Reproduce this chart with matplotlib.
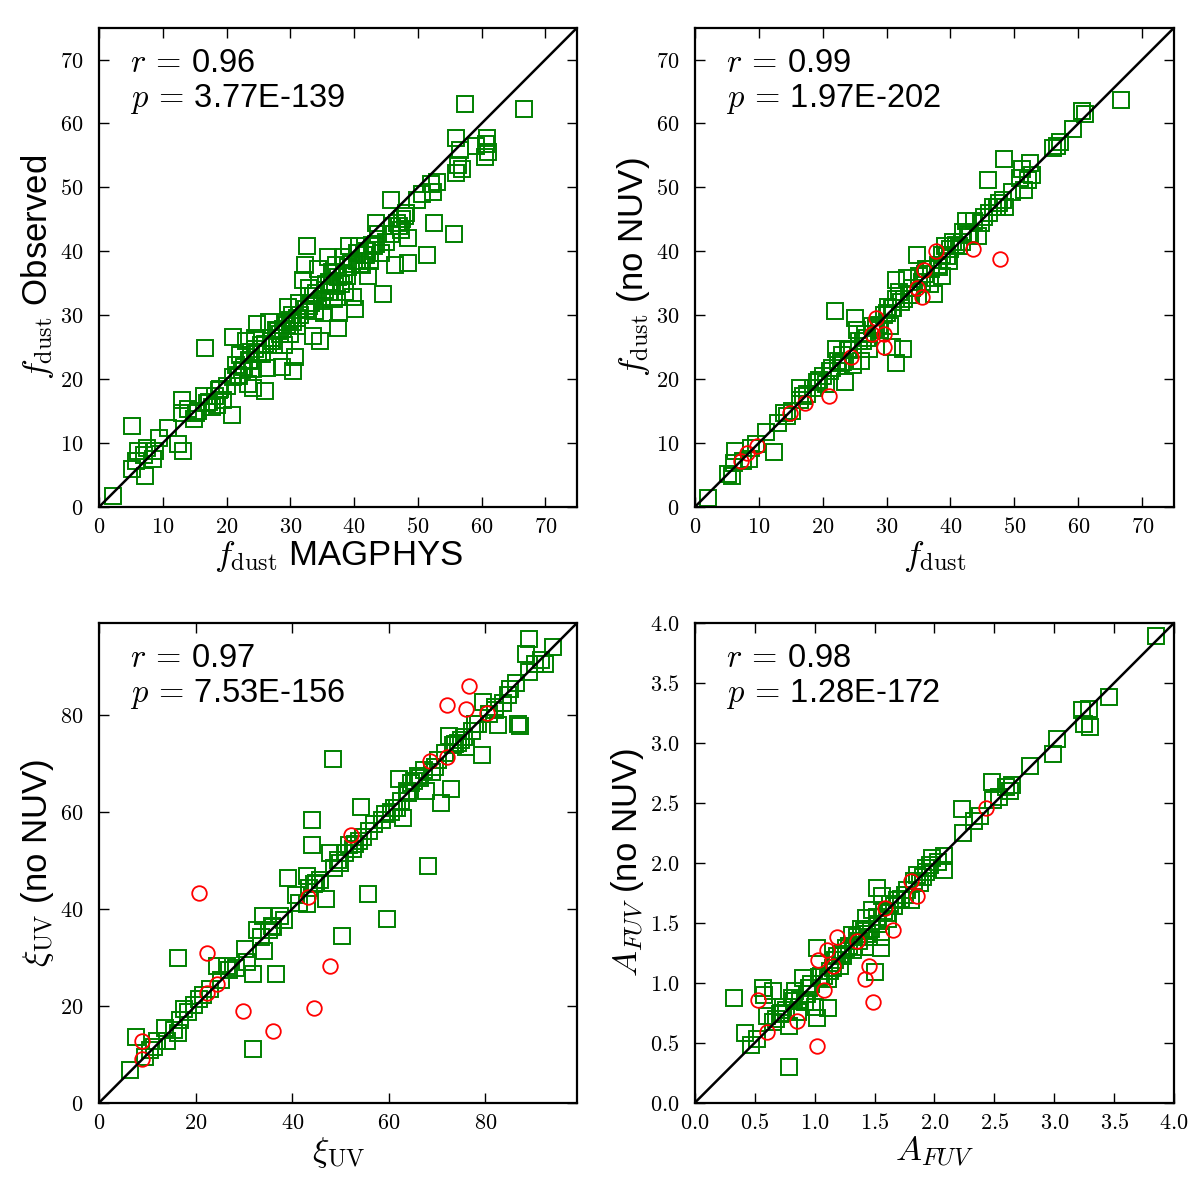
import matplotlib
matplotlib.use('Agg')
import matplotlib.pyplot as plt
from matplotlib.ticker import FuncFormatter

plt.rcParams['font.family'] = ['Liberation Sans', 'DejaVu Sans']
plt.rcParams['mathtext.fontset'] = 'cm'

# ---- panel 1: f_dust MAGPHYS vs observed (green only)
fd_magphys = [2.2, 5.1, 5.2, 5.8, 6.1, 7.0, 7.2, 7.6, 8.5, 8.8, 9.4, 10.9, 12.4, 13.2,
              13.0, 13.0, 13.9, 14.9, 15.2, 16.4, 16.7, 17.3, 17.8, 18.2, 18.8, 19.4,
              20.0, 20.9, 21.0, 21.5, 21.8, 22.1, 22.7, 23.0, 23.3, 23.6, 24.2, 24.2,
              24.5, 24.5, 24.8, 25.4, 26.0, 26.3, 26.6, 26.9, 27.5, 27.8, 28.4, 28.7,
              29.0, 29.3, 29.6, 29.9, 30.2, 30.5, 30.8, 31.1, 31.4, 32.0, 32.3, 32.6,
              32.9, 33.2, 33.5, 33.8, 34.4, 34.7, 35.0, 35.3, 35.6, 35.9, 36.2, 36.5,
              36.8, 37.1, 37.5, 37.7, 38.0, 38.3, 38.6, 38.9, 39.2, 39.8, 40.1, 40.4,
              40.7, 41.3, 41.9, 42.2, 42.5, 43.1, 43.4, 43.7, 44.3, 44.6, 45.8, 45.8,
              46.4, 46.7, 47.3, 47.6, 48.5, 48.5, 48.2, 49.8, 50.7, 51.5, 52.1, 52.4,
              52.6, 55.7, 56.0, 56.0, 56.3, 56.6, 56.9, 57.4, 59.1, 60.6, 60.9, 60.7,
              66.6,
              15.5, 17.0, 18.5, 19.0, 21.0, 22.5, 23.5, 25.0, 26.0, 27.0, 28.0, 29.5,
              30.5, 31.5, 33.0, 34.0, 35.5, 36.5, 37.5, 39.0, 40.5, 41.5, 42.8, 47.0,
              22.0, 23.8, 25.6, 27.2, 28.9, 30.0, 31.0, 32.4, 33.6, 34.9, 36.0, 37.0,
              38.4, 39.6, 41.0, 42.0, 43.5, 45.0, 46.0, 48.0, 53.0, 61.0]
fd_observed = [1.7, 12.7, 6.0, 7.2, 8.7, 8.1, 4.9, 9.3, 7.5, 8.7, 10.8, 12.3, 9.9, 8.7,
               16.8, 14.7, 15.3, 13.8, 14.7, 17.4, 24.8, 16.5, 15.6, 17.4, 18.3, 16.8,
               18.9, 14.4, 26.6, 22.2, 20.7, 23.8, 21.9, 25.9, 19.2, 22.8, 18.6, 21.6,
               26.5, 24.7, 28.6, 25.3, 18.2, 21.8, 28.9, 26.5, 25.3, 27.7, 27.1, 21.9,
               25.3, 28.9, 31.3, 27.1, 30.1, 21.3, 23.5, 28.3, 31.9, 35.5, 37.9, 40.9,
               34.3, 31.9, 26.8, 30.7, 37.3, 25.9, 32.5, 30.4, 34.9, 39.1, 33.7, 36.7,
               32.5, 37.9, 28.0, 30.4, 34.9, 39.1, 33.7, 36.1, 40.9, 32.8, 31.0, 39.7,
               40.9, 37.9, 39.4, 36.1, 38.5, 40.9, 44.5, 42.7, 39.7, 33.4, 48.1, 42.7,
               37.9, 44.5, 43.3, 45.1, 42.1, 38.2, 46.0, 48.1, 49.0, 39.4, 50.5, 49.3,
               44.5, 42.7, 52.3, 57.7, 53.5, 55.9, 52.9, 63.1, 56.5, 54.7, 57.7, 56.8,
               62.2,
               15.0, 16.2, 16.0, 18.5, 20.3, 21.5, 23.0, 24.0, 25.5, 26.0, 27.5, 28.5,
               29.0, 30.0, 31.5, 33.5, 34.0, 35.0, 36.0, 37.5, 38.5, 39.5, 41.0, 44.0,
               20.5, 24.2, 24.0, 26.0, 27.8, 29.2, 29.5, 31.0, 33.0, 32.2, 35.2, 34.5,
               36.4, 38.0, 38.0, 40.0, 41.2, 41.5, 44.0, 45.5, 50.8, 55.5]

# ---- panel 2: f_dust vs f_dust (no NUV)
fd_x_green = [2.1, 5.2, 5.8, 6.3, 6.1, 7.6, 8.5, 8.8, 11.1, 12.4, 13.0, 14.0, 15.2, 16.4,
              16.4, 17.6, 18.5, 19.1, 20.6, 21.2, 21.9, 22.1, 22.4, 23.0, 23.5, 23.9,
              24.8, 25.1, 25.4, 25.7, 26.0, 26.6, 27.2, 27.8, 29.0, 29.6, 30.2, 30.5,
              30.8, 31.4, 31.5, 32.6, 31.4, 32.0, 33.2, 33.8, 34.7, 35.0, 36.2, 36.8,
              37.4, 38.0, 38.6, 38.6, 39.2, 39.8, 40.4, 41.3, 41.9, 42.5, 42.8, 43.7,
              44.3, 45.2, 45.9, 46.1, 46.7, 47.6, 48.3, 48.2, 48.5, 49.7, 50.9, 51.2,
              51.5, 52.1, 52.4, 52.7, 56.0, 56.6, 57.2, 59.2, 60.6, 61.0, 66.6,
              9.5, 14.5, 17.0, 19.5, 22.8, 24.2, 26.3, 28.3, 30.0, 31.0, 32.8, 34.0,
              35.5, 37.0, 39.5, 40.8, 43.0, 44.8, 47.2,
              20.0, 21.5, 23.2, 27.0, 28.8, 30.8, 32.2, 33.5, 36.0, 38.2, 40.0, 41.8]
fd_y_green = [1.4, 5.1, 4.9, 8.7, 6.9, 7.2, 7.5, 9.3, 11.7, 8.6, 13.2, 14.7, 15.0, 18.6,
              16.8, 17.7, 18.6, 19.5, 19.2, 21.3, 30.7, 24.7, 22.9, 23.8, 19.5, 24.7,
              22.2, 29.5, 27.7, 25.9, 22.9, 27.1, 24.7, 28.3, 27.7, 30.1, 31.3, 28.3,
              25.0, 32.5, 22.5, 24.7, 35.5, 33.7, 35.8, 33.1, 39.4, 36.1, 37.3, 34.9,
              33.4, 37.9, 36.1, 39.4, 40.9, 38.5, 41.5, 40.9, 43.0, 44.8, 42.7, 44.8,
              42.4, 45.4, 51.1, 46.0, 46.9, 47.5, 54.4, 48.1, 46.9, 49.3, 51.4, 52.9,
              49.6, 51.1, 53.8, 52.0, 56.2, 56.5, 57.1, 59.2, 61.9, 61.5, 63.6,
              9.8, 14.2, 17.3, 19.8, 22.5, 24.5, 26.0, 28.0, 30.3, 31.2, 32.5, 34.2,
              35.2, 37.2, 39.2, 41.0, 42.6, 44.5, 47.0,
              20.5, 21.8, 22.7, 26.5, 28.5, 31.2, 32.0, 33.2, 36.4, 37.6, 40.3, 41.5]
fd_x_red = [7.3, 8.2, 9.7, 14.9, 17.3, 21.0, 24.5, 27.8, 28.4, 29.6, 29.6, 34.7, 35.6,
            35.9, 37.7, 43.5, 47.8]
fd_y_red = [7.2, 8.4, 9.6, 14.7, 16.2, 17.4, 23.5, 27.1, 29.5, 27.1, 25.0, 34.3, 32.8,
            37.0, 40.0, 40.3, 38.8]

# ---- panel 3: xi_UV vs xi_UV (no NUV)
xi_x_green = [6.5, 7.7, 9.5, 11.3, 12.1, 14.1, 13.7, 15.6, 16.4, 16.4, 16.8, 17.5, 19.6,
              20.8, 21.6, 24.4, 25.2, 26.4, 28.4, 30.3, 30.7, 31.8, 31.9, 32.7, 33.5,
              33.9, 34.2, 35.1, 35.9, 36.7, 37.5, 38.3, 39.1, 40.7, 43.0, 43.0, 43.4,
              44.2, 44.2, 44.6, 45.8, 47.0, 47.8, 48.5, 48.6, 49.4, 50.4, 51.0, 51.8,
              52.6, 53.8, 54.2, 54.6, 55.6, 55.8, 58.5, 59.3, 59.7, 60.5, 61.7, 62.1,
              62.5, 62.9, 63.7, 64.5, 65.3, 66.1, 67.3, 67.7, 68.1, 68.9, 70.1, 70.9,
              71.6, 72.4, 72.8, 73.2, 74.4, 75.6, 76.0, 77.2, 78.4, 79.2, 79.4, 80.7,
              81.9, 82.6, 83.6, 84.7, 86.7, 87.1, 86.3, 88.3, 89.1, 89.1, 90.3, 91.5,
              92.3, 93.9,
              10.5, 18.5, 23.0, 27.0, 36.0, 41.5, 45.0, 49.8, 53.0, 57.0, 61.0, 64.0,
              66.5, 69.5, 73.8, 75.0, 77.8, 82.0, 85.0]
xi_y_green = [6.7, 13.5, 9.5, 11.5, 12.7, 12.7, 15.5, 15.1, 14.3, 29.8, 17.1, 19.4, 20.2,
              21.4, 22.2, 28.2, 25.4, 28.2, 27.8, 31.7, 29.0, 26.6, 11.1, 35.7, 34.1,
              38.5, 31.3, 35.7, 36.5, 26.6, 38.5, 37.7, 46.4, 42.9, 46.8, 40.9, 44.4,
              53.2, 58.3, 45.2, 46.0, 42.1, 51.6, 71.0, 48.4, 50.0, 34.3, 51.6, 53.2,
              52.4, 54.0, 61.1, 54.8, 43.0, 56.0, 58.3, 59.5, 37.9, 59.9, 60.7, 66.7,
              62.3, 58.7, 64.3, 65.9, 66.3, 67.5, 68.7, 64.3, 48.8, 68.3, 70.6, 61.9,
              72.2, 75.6, 64.7, 73.8, 74.2, 75.4, 73.4, 76.6, 78.2, 71.8, 82.7, 80.2,
              81.0, 77.9, 82.5, 84.1, 78.2, 77.8, 86.5, 92.5, 95.6, 88.9, 90.5, 91.3,
              90.5, 94.0,
              10.8, 18.8, 23.4, 27.3, 36.2, 41.3, 45.4, 49.5, 53.3, 57.4, 60.8, 63.8,
              66.9, 69.2, 74.1, 74.8, 78.1, 81.7, 85.3]
xi_x_red = [8.9, 8.9, 20.8, 22.4, 22.4, 24.4, 29.8, 36.1, 43.3, 44.6, 47.8, 52.2, 68.5,
            72.0, 72.0, 76.0, 76.6, 80.4]
xi_y_red = [12.7, 9.1, 43.2, 30.8, 22.6, 24.6, 18.9, 14.8, 42.5, 19.6, 28.2, 55.2, 70.4,
            71.3, 82.1, 81.2, 85.9, 80.3]

# ---- panel 4: A_FUV vs A_FUV (no NUV)
a_x_green = [0.33, 0.42, 0.47, 0.52, 0.57, 0.58, 0.65, 0.60, 0.65, 0.71, 0.74, 0.79, 0.79,
             0.81, 0.84, 0.86, 0.90, 0.92, 0.95, 1.00, 1.02, 1.02, 1.05, 1.11, 1.11, 1.15,
             1.19, 1.21, 1.26, 1.31, 1.32, 1.35, 1.39, 1.42, 1.43, 1.45, 1.50, 1.48, 1.52,
             1.53, 1.55, 1.55, 1.56, 1.61, 1.66, 1.69, 1.77, 1.80, 1.85, 1.88, 1.93, 1.98,
             2.03, 2.08, 2.08, 2.23, 2.24, 2.33, 2.38, 2.48, 2.49, 2.54, 2.60, 2.65, 2.63,
             2.80, 2.99, 3.02, 3.23, 3.25, 3.29, 3.30, 3.46, 3.85,
             0.68, 0.76, 0.88, 0.97, 1.08, 1.17, 1.24, 1.29, 1.37, 1.41, 1.47, 1.58,
             1.63, 1.72, 1.83, 1.90, 1.96,
             0.72, 0.83, 0.94, 1.04, 1.13, 1.22, 1.33, 1.44, 1.52, 1.60, 1.75, 1.93]
a_y_green = [0.87, 0.58, 0.48, 0.53, 0.96, 0.90, 0.93, 0.72, 0.67, 0.74, 0.80, 0.30, 0.64,
             0.87, 0.93, 0.76, 1.04, 0.84, 0.96, 0.80, 1.29, 0.71, 1.06, 0.79, 1.03, 1.12,
             1.22, 1.14, 1.29, 1.40, 1.27, 1.38, 1.45, 1.30, 1.54, 1.38, 1.09, 1.61, 1.79,
             1.49, 1.29, 1.38, 1.72, 1.53, 1.64, 1.69, 1.77, 1.69, 1.90, 1.83, 1.96, 2.04,
             2.01, 2.06, 1.94, 2.45, 2.25, 2.35, 2.39, 2.67, 2.52, 2.55, 2.63, 2.65, 2.60,
             2.81, 2.91, 3.03, 3.27, 3.16, 3.28, 3.13, 3.38, 3.89,
             0.70, 0.77, 0.86, 0.99, 1.06, 1.19, 1.22, 1.31, 1.35, 1.43, 1.45, 1.60,
             1.66, 1.70, 1.85, 1.88, 1.98,
             0.75, 0.85, 0.91, 1.05, 1.10, 1.24, 1.30, 1.41, 1.55, 1.58, 1.73, 1.92]
a_x_red = [0.53, 0.60, 0.85, 1.02, 1.03, 1.08, 1.10, 1.15, 1.19, 1.35, 1.42, 1.45, 1.49,
           1.59, 1.65, 1.80, 1.85, 2.43]
a_y_red = [0.86, 0.59, 0.68, 0.47, 1.19, 0.94, 1.27, 1.14, 1.38, 1.35, 1.03, 1.14, 0.84,
           1.62, 1.44, 1.85, 1.72, 2.46]

panels = [
    dict(gx=fd_magphys, gy=fd_observed, rx=[], ry=[], lim=75, ticks=range(0, 80, 10),
         fmt='%d', xlabel=r'$f_{\rm dust}$ MAGPHYS', ylabel=r'$f_{\rm dust}$ Observed',
         r='0.96', p='3.77E-139', pos=[0.0825, 0.5775, 0.3985, 0.3995]),
    dict(gx=fd_x_green, gy=fd_y_green, rx=fd_x_red, ry=fd_y_red, lim=75,
         ticks=range(0, 80, 10), fmt='%d', xlabel=r'$f_{\rm dust}$',
         ylabel=r'$f_{\rm dust}$ (no NUV)', r='0.99', p='1.97E-202',
         pos=[0.579, 0.5775, 0.3995, 0.3995]),
    dict(gx=xi_x_green, gy=xi_y_green, rx=xi_x_red, ry=xi_y_red, lim=99,
         ticks=range(0, 100, 20), fmt='%d', xlabel=r'$\xi_{\rm UV}$',
         ylabel=r'$\xi_{\rm UV}$ (no NUV)', r='0.97', p='7.53E-156',
         pos=[0.0825, 0.081, 0.3985, 0.4]),
    dict(gx=a_x_green, gy=a_y_green, rx=a_x_red, ry=a_y_red, lim=4.0,
         ticks=[0, 0.5, 1, 1.5, 2, 2.5, 3, 3.5, 4], fmt='%.1f', xlabel=r'$A_{FUV}$',
         ylabel=r'$A_{FUV}$ (no NUV)', r='0.98', p='1.28E-172',
         pos=[0.579, 0.081, 0.3995, 0.4]),
]

fig = plt.figure(figsize=(12, 12), dpi=100)
for pn in panels:
    ax = fig.add_axes(pn['pos'])
    ax.plot(pn['gx'], pn['gy'], 's', mfc='none', mec='g', ms=11, mew=1.4)
    if pn['rx']:
        ax.plot(pn['rx'], pn['ry'], 'o', mfc='none', mec='r', ms=10.5, mew=1.3)
    ax.plot([0, pn['lim']], [0, pn['lim']], 'k-', lw=1.8)
    ax.set_xlim(0, pn['lim'])
    ax.set_ylim(0, pn['lim'])
    ax.set_xticks(pn['ticks'])
    ax.set_yticks(pn['ticks'])
    f = pn['fmt']
    ax.xaxis.set_major_formatter(FuncFormatter(lambda v, i, f=f: '$' + f % v + '$'))
    ax.yaxis.set_major_formatter(FuncFormatter(lambda v, i, f=f: '$' + f % v + '$'))
    ax.tick_params(direction='in', top=True, right=True, length=7, width=1,
                   labelsize=16)
    ax.tick_params(axis='x', pad=7)
    ax.tick_params(axis='y', pad=11)
    for s in ax.spines.values():
        s.set_linewidth(1.6)
    ax.set_xlabel(pn['xlabel'], fontsize=25, labelpad=1)
    ax.set_ylabel(pn['ylabel'], fontsize=25, labelpad=3)
    ax.text(0.065, 0.958, r'$r\, =\,$' + pn['r'] + '\n' + r'$p\, =\,$' + pn['p'],
            transform=ax.transAxes, fontsize=23.5, va='top', ha='left', linespacing=1.14)

fig.savefig('out.png', dpi=100)
